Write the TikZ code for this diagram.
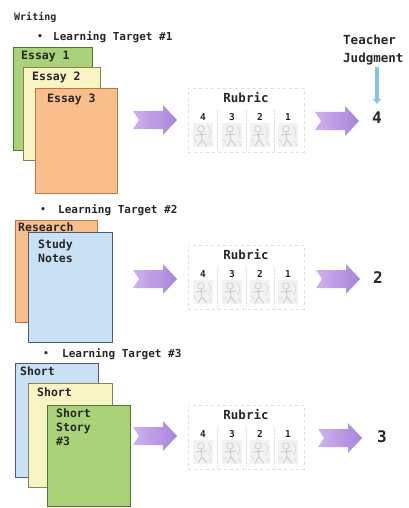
\documentclass[tikz,border=0pt]{standalone}
\usepackage{fontspec}
\newfontfamily\mono{DejaVu Sans Mono}
\usetikzlibrary{arrows.meta}
\definecolor{grnF}{RGB}{170,210,120}
\definecolor{grnD}{RGB}{80,120,50}
\definecolor{yelF}{RGB}{248,244,196}
\definecolor{yelD}{RGB}{140,130,80}
\definecolor{orgF}{RGB}{248,190,140}
\definecolor{orgD}{RGB}{190,120,60}
\definecolor{bluF}{RGB}{200,225,245}
\definecolor{bluD}{RGB}{70,90,130}
\definecolor{purL}{RGB}{205,178,238}
\definecolor{purR}{RGB}{168,132,218}
\definecolor{tjblue}{RGB}{135,195,230}
\tikzset{
  txt/.style={font=\mono\bfseries\fontsize{11}{13}\selectfont, inner sep=0pt, text=black!85},
  boxtxt/.style={txt, font=\mono\bfseries\fontsize{11.5}{14}\selectfont, align=left, anchor=north west},
  doc/.style={draw=#1D, fill=#1F, line width=1.3pt, anchor=north west, inner sep=0pt},
  rubbox/.style={draw=gray!25, dashed, line width=0.4pt, minimum width=116pt, minimum height=64pt, inner sep=0pt},
  rubtitle/.style={txt, font=\mono\bfseries\fontsize{12.5}{14}\selectfont},
  rubnum/.style={txt, font=\mono\bfseries\fontsize{9.5}{10}\selectfont},
  result/.style={txt, font=\mono\bfseries\fontsize{16}{18}\selectfont},
  fatarrow/.pic={
    \shade[left color=purL, right color=purR]
      (-22,-9) -- (8,-9) -- (8,-15) -- (22,0) -- (8,15) -- (8,9) -- (-22,9) -- (-16,0) -- cycle;
  },
  figpic/.pic={
    \fill[gray!10] (-10,-12) rectangle (10,12);
    \draw[gray!40, line width=0.7pt] (-2,-6) circle (3.2);
    \draw[gray!45, line width=0.8pt] (-2,-3) -- (-1,5) (-7,0) -- (4,-1) (-1,5) -- (-5,11) (-1,5) -- (4,11);
    \draw[gray!30, line width=0.6pt] (5,-9) -- (8,-4) -- (6,3) (-9,4) -- (-6,8) (6,6) -- (9,10);
  }
}
\newcommand\rubricblock[2]{%
  \node[rubbox, anchor=north west] (rb#1) at (188,#2) {};
  \node[rubtitle] (rt#1) at (246,#2+10) {Rubric};
  \foreach \cx/\nm [count=\i] in {203/4,232/3,260/2,288/1}{
    \node[rubnum] (rn#1\i) at (\cx,#2+29) {\nm};
    \pic at (\cx,#2+47) {figpic};
  }
  \foreach \dx in {217,246,274}{
    \draw[gray!25, densely dotted, line width=0.4pt] (\dx,#2+22) -- (\dx,#2+64);
  }
}
\begin{document}
\begin{tikzpicture}[x=1pt,y=-1pt]
\useasboundingbox[fill=white] (0,0) rectangle (409,508);

% headings
\node[txt, font=\mono\bfseries\fontsize{10}{11}\selectfont, anchor=west] (writing) at (14,17) {Writing};
\node[txt, font=\mono\bfseries\fontsize{9}{11}\selectfont] (b1) at (40,37) {•};
\node[txt, anchor=west] (lt1) at (53,37) {Learning Target \#1};
\node[txt, font=\mono\bfseries\fontsize{12.5}{18}\selectfont, align=left, anchor=north west] (tj) at (343,35) {Teacher\\Judgment};

% section 1 documents
\node[doc=grn, minimum width=79pt, minimum height=103pt] (e1) at (13,47) {};
\node[boxtxt] (e1t) at (21,51) {Essay 1};
\node[doc=yel, minimum width=77pt, minimum height=93pt] (e2) at (23,67) {};
\node[boxtxt] (e2t) at (32,72) {Essay 2};
\node[doc=org, minimum width=82pt, minimum height=105pt] (e3) at (35,88) {};
\node[boxtxt] (e3t) at (47,94) {Essay 3};

\pic at (155,120) {fatarrow};
\rubricblock{a}{88}
\pic at (337,121) {fatarrow};
\node[result] (res1) at (377,118) {4};
\draw[tjblue, line width=3.5pt, -{Triangle[width=8pt,length=5pt]}, shorten <=2pt, shorten >=8pt] (tj.south -| res1) -- (res1.north);

% section 2
\node[txt, font=\mono\bfseries\fontsize{9}{11}\selectfont] (b2) at (43,210) {•};
\node[txt, anchor=west] (lt2) at (58,210) {Learning Target \#2};
\node[doc=org, minimum width=82pt, minimum height=102pt] (r1) at (15,220) {};
\node[boxtxt] (r1t) at (18,223) {Research};
\node[doc=blu, minimum width=84pt, minimum height=110pt] (sn) at (28,232) {};
\node[boxtxt] (snt) at (38,240) {Study\\Notes};

\pic at (155,279) {fatarrow};
\rubricblock{b}{245}
\pic at (338,279) {fatarrow};
\node[result] (res2) at (378,278) {2};

% section 3
\node[txt, font=\mono\bfseries\fontsize{9}{11}\selectfont] (b3) at (46,354) {•};
\node[txt, anchor=west] (lt3) at (62,354) {Learning Target \#3};
\node[doc=blu, minimum width=83pt, minimum height=114pt] (s1) at (15,363) {};
\node[boxtxt] (s1t) at (20,367) {Short};
\node[doc=yel, minimum width=84pt, minimum height=104pt] (s2) at (28,383) {};
\node[boxtxt] (s2t) at (37,388) {Short};
\node[doc=grn, minimum width=83pt, minimum height=101pt] (s3) at (47,405) {};
\node[boxtxt] (s3t) at (56,409) {Short\\Story\\\#3};

\pic at (155,436) {fatarrow};
\rubricblock{c}{405}
\pic at (340,438) {fatarrow};
\node[result] (res3) at (382,437) {3};
\end{tikzpicture}
\end{document}
